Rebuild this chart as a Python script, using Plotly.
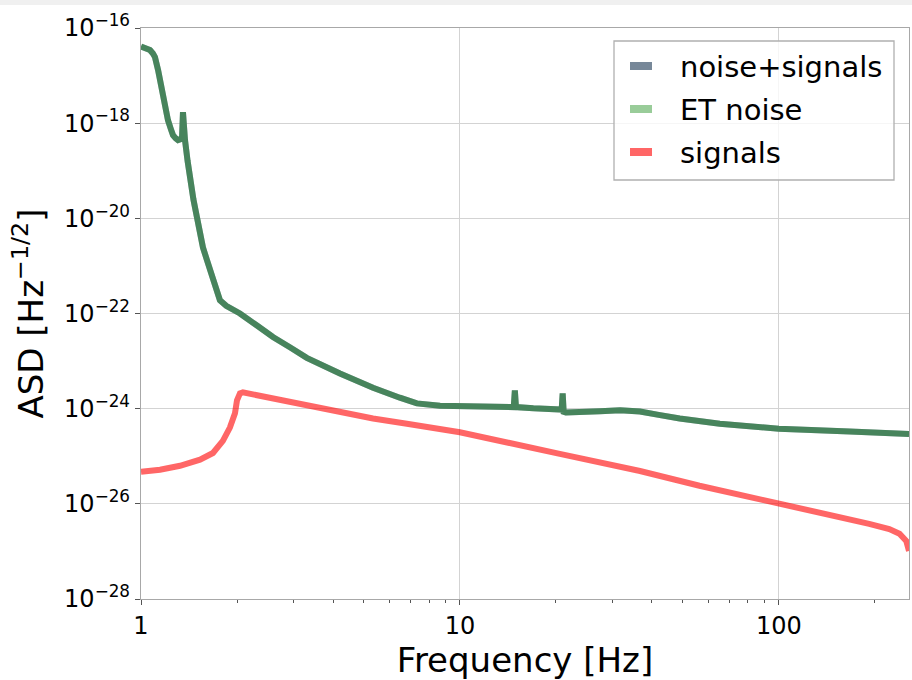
import plotly.graph_objects as go

# ---- data ----
freq_noise = [1.0, 1.015, 1.04, 1.067, 1.09, 1.106, 1.131, 1.15, 1.172, 1.195, 1.215, 1.24, 1.26,
              1.285, 1.306, 1.33, 1.345, 1.354, 1.364, 1.374, 1.40, 1.424, 1.46, 1.498, 1.53,
              1.564, 1.61, 1.65, 1.681, 1.72, 1.768, 1.85, 1.943, 2.043, 2.31, 2.593, 2.93,
              3.31, 4.206, 5.34, 6.48, 7.33, 8.66, 10.0, 11.55, 13.35, 14.75, 14.87, 14.99, 17.0,
              19.15, 20.85, 21.0, 21.15, 21.5, 23.8, 27.5, 31.8, 36.7, 42.0, 48.9, 65.3, 100.0,
              167.0, 256.0]
asd_et_noise = [4.1e-17, 4.0e-17, 3.8e-17, 3.45e-17, 2.9e-17, 2.45e-17, 1.31e-17, 6.8e-18, 3.55e-18,
                1.9e-18, 1.15e-18, 7.6e-19, 5.6e-19, 4.8e-19, 4.4e-19, 4.6e-19, 5.1e-19, 1.7e-18,
                6.0e-19, 4.4e-19, 1.6e-19, 6.3e-20, 2.5e-20, 1.05e-20, 4.8e-21, 2.45e-21, 1.32e-21,
                7.5e-22, 4.8e-22, 2.9e-22, 1.9e-22, 1.45e-22, 1.2e-22, 1.0e-22, 5.6e-23, 3.2e-23,
                1.95e-23, 1.17e-23, 5.5e-24, 2.75e-24, 1.7e-24, 1.29e-24, 1.15e-24, 1.15e-24,
                1.12e-24, 1.1e-24, 1.08e-24, 2.4e-24, 1.08e-24, 1.02e-24, 1.0e-24, 9.6e-25, 2.1e-24,
                8.6e-25, 8.3e-25, 8.3e-25, 8.8e-25, 9.3e-25, 8.7e-25, 7.4e-25, 6.2e-25, 4.8e-25,
                3.8e-25, 3.3e-25, 2.95e-25]
asd_noise_signals = [4.1e-17, 4.0e-17, 3.8e-17, 3.45e-17, 2.9e-17, 2.45e-17, 1.31e-17, 6.8e-18, 3.55e-18,
                     1.9e-18, 1.15e-18, 7.6e-19, 5.6e-19, 4.8e-19, 4.4e-19, 4.6e-19, 5.1e-19, 1.7e-18,
                     6.0e-19, 4.4e-19, 1.6e-19, 6.3e-20, 2.5e-20, 1.05e-20, 4.8e-21, 2.45e-21, 1.32e-21,
                     7.5e-22, 4.8e-22, 2.9e-22, 1.9e-22, 1.45e-22, 1.2e-22, 1.0e-22, 5.6e-23, 3.2e-23,
                     1.95e-23, 1.17e-23, 5.5e-24, 2.75e-24, 1.7e-24, 1.29e-24, 1.15e-24, 1.15e-24,
                     1.12e-24, 1.1e-24, 1.08e-24, 2.4e-24, 1.08e-24, 1.02e-24, 1.0e-24, 9.6e-25, 2.1e-24,
                     8.6e-25, 8.3e-25, 8.3e-25, 8.8e-25, 9.3e-25, 8.7e-25, 7.4e-25, 6.2e-25, 4.8e-25,
                     3.8e-25, 3.3e-25, 2.95e-25]

freq_signals = [1.0, 1.147, 1.325, 1.531, 1.681, 1.806, 1.9, 1.971, 2.0, 2.043, 2.087, 2.593, 3.31,
                4.206, 5.34, 6.82, 10.0, 20.57, 36.7, 56.4, 100.0, 116.5, 144.0, 192.0, 222.0,
                239.0, 251.0, 256.0]
asd_signals = [4.7e-26, 5.2e-26, 6.3e-26, 8.5e-26, 1.17e-25, 2.1e-25, 4.0e-25, 8.0e-25, 1.5e-24,
               2.1e-24, 2.2e-24, 1.62e-24, 1.15e-24, 8.3e-25, 6.2e-25, 4.8e-25, 3.2e-25, 1.12e-25,
               4.9e-26, 2.4e-26, 1.05e-26, 8.0e-27, 6.2e-27, 3.8e-27, 2.95e-27, 2.35e-27,
               1.65e-27, 1.02e-27]

series_names = ["noise+signals", "ET noise", "signals"]
series_colors = ["#778899", "rgba(0,128,0,0.4)", "rgba(255,0,0,0.6)"]

y_tick_vals = [1e-16, 1e-18, 1e-20, 1e-22, 1e-24, 1e-26, 1e-28]
y_tick_text = ["10<sup>\u221216</sup>", "10<sup>\u221218</sup>", "10<sup>\u221220</sup>",
               "10<sup>\u221222</sup>", "10<sup>\u221224</sup>", "10<sup>\u221226</sup>",
               "10<sup>\u221228</sup>"]
x_tick_vals = [1, 10, 100]
x_tick_text = ["1", "10", "100"]
x_minor_vals = [2, 3, 4, 5, 6, 7, 8, 9, 20, 30, 40, 50, 60, 70, 80, 90, 200]

FONT = "DejaVu Sans"
fig = go.Figure()

data_series = [(freq_noise, asd_noise_signals), (freq_noise, asd_et_noise), (freq_signals, asd_signals)]
for (fx, fy), name, col in zip(data_series, series_names, series_colors):
    fig.add_trace(go.Scatter(x=fx, y=fy, mode="lines", name=name, showlegend=False,
                             line=dict(color=col, width=6), hoverinfo="skip"))

W, H = 912, 680
ml, mr, mt, mb = 141, 3, 28, 81
pw = W - ml - mr
ph = H - mt - mb


def px_x(x):
    return (x - ml) / pw


def px_y(y):
    return 1 - (y - mt) / ph


shapes = [dict(type="rect", xref="paper", yref="paper", x0=px_x(0), x1=px_x(W),
               y0=px_y(5), y1=px_y(0), fillcolor="#f0f0f0", line=dict(width=0), layer="below")]
# manual legend (matplotlib style patches)
shapes.append(dict(type="rect", xref="paper", yref="paper", x0=px_x(614), x1=px_x(894),
                   y0=px_y(180), y1=px_y(41), fillcolor="rgba(255,255,255,0.8)",
                   line=dict(color="#b0b0b0", width=1.3), layer="above"))
annotations = []
row_y = [66, 109, 152]
for name, col, ry in zip(series_names, series_colors, row_y):
    shapes.append(dict(type="rect", xref="paper", yref="paper", x0=px_x(630), x1=px_x(652),
                       y0=px_y(ry + 4), y1=px_y(ry - 4), fillcolor=col, line=dict(width=0),
                       layer="above"))
    annotations.append(dict(xref="paper", yref="paper", x=px_x(678), y=px_y(ry + 1), text=name,
                            showarrow=False, xanchor="left", yanchor="middle",
                            font=dict(family=FONT, size=29, color="black")))

fig.update_layout(
    width=W, height=H,
    margin=dict(l=ml, r=mr, t=mt, b=mb),
    paper_bgcolor="white", plot_bgcolor="white",
    font=dict(family=FONT, size=24, color="black"),
    showlegend=False,
    xaxis=dict(type="log", range=[0, 2.4082],
               tickvals=x_tick_vals, ticktext=x_tick_text,
               ticks="outside", ticklen=5, tickcolor="#555555",
               showgrid=True, gridcolor="#d3d3d3", gridwidth=1,
               showline=True, linecolor="#a8a8a8", linewidth=1.3, mirror=True,
               zeroline=False,
               tickfont=dict(size=24),
               minor=dict(tickvals=x_minor_vals, ticks="outside", ticklen=3,
                          tickcolor="#555555", showgrid=False),
               title=dict(text="Frequency [Hz]", font=dict(size=34), standoff=6)),
    yaxis=dict(type="log", range=[-28, -16],
               tickvals=y_tick_vals, ticktext=y_tick_text,
               ticks="outside", ticklen=5, tickcolor="#555555",
               showgrid=True, gridcolor="#d3d3d3", gridwidth=1,
               showline=True, linecolor="#a8a8a8", linewidth=1.3, mirror=True,
               zeroline=False,
               tickfont=dict(size=24),
               title=dict(text="ASD [Hz<sup>\u22121/2</sup>]", font=dict(size=34), standoff=10)),
    shapes=shapes,
    annotations=annotations,
)

fig.write_html("out.html")
